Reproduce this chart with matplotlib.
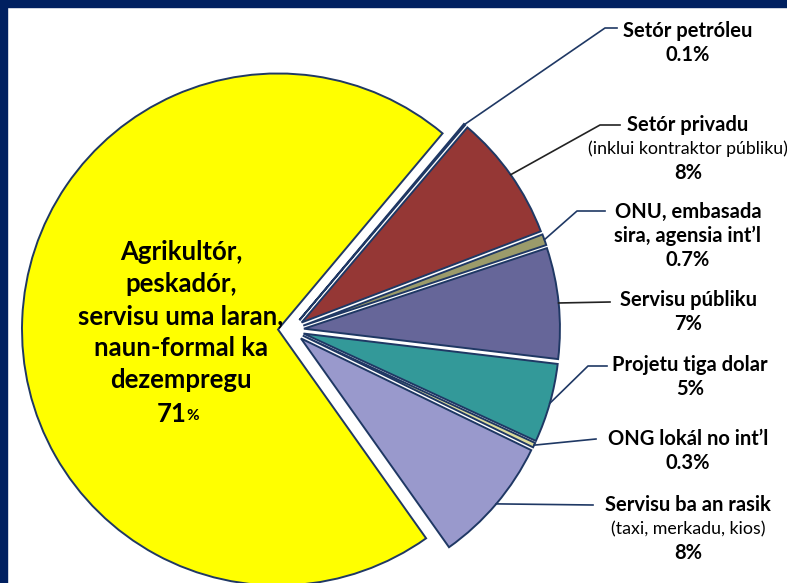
import math
import matplotlib.pyplot as plt
from matplotlib.patches import Rectangle

W, H = 787, 583
plt.rcParams['font.family'] = ['Lato', 'DejaVu Sans']

# sectors clockwise from the top of the small fan, the big yellow one last
sectors = ["Setór petróleu", "Setór privadu", "ONU, embasada\nsira, agensia int’l",
           "Servisu públiku", "Projetu tiga dolar", "ONG lokál no int’l",
           "Servisu ba an rasik",
           "Agrikultór,\npeskadór,\nservisu uma laran,\nnaun-formal ka\ndezempregu"]
shares = [0.1, 8, 0.7, 7, 5, 0.3, 8, 71]
notes = ["", "(inklui kontraktor públiku)", "", "", "", "", "(taxi, merkadu, kios)", ""]
colors = ['#4F6FA0', '#953735', '#9B9B6B', '#666699', '#339999', '#DCDC9C', '#9999CC', '#FFFF00']

# label layout (image pixels, y from top)
label_pos = [(688, 31), (688, 125), (688, 212), (688, 300), (690, 365), (688, 439), (688, 505)]
elbows = [(605, 28), (600, 125), (577, 211), None, (588, 366), None, None]
ends = [(617, 28), (620, 125), (605, 211), (610, 302), (607, 366), (596, 439), (593, 505)]
leader_colors = ['#1F3864', '#222222', '#1F3864', '#222222', '#1F3864', '#1F3864', '#1F3864']

fig = plt.figure(figsize=(W / 100, H / 100), dpi=100)
ax = fig.add_axes([0, 0, 1, 1])

wedges, _ = ax.pie(shares, colors=colors, startangle=50, counterclock=False,
                   center=(291, H - 330), radius=256, explode=[13] * len(shares),
                   wedgeprops=dict(edgecolor='#1F3864', linewidth=1.4), frame=True)
ax.set_xlim(0, W)
ax.set_ylim(0, H)
ax.axis('off')

# leader lines + labels
for i in range(7):
    w = wedges[i]
    tm = math.radians((w.theta1 + w.theta2) / 2)
    sx = w.center[0] + w.r * math.cos(tm)
    sy = w.center[1] + w.r * math.sin(tm)
    xs, ys = [sx], [sy]
    if elbows[i]:
        xs.append(elbows[i][0]); ys.append(H - elbows[i][1])
    xs.append(ends[i][0]); ys.append(H - ends[i][1])
    ax.plot(xs, ys, color=leader_colors[i], lw=1.2)

    lx, ly = label_pos[i]
    lines = [(t, 'bold', 14.5) for t in sectors[i].split('\n')]
    if notes[i]:
        lines.append((notes[i], 'normal', 12.8))
    lines.append((f"{shares[i]:g}%", 'bold', 14.5))
    for k, (t, wt, fs) in enumerate(lines):
        ax.text(lx, H - (ly + 24 * k), t, ha='center', va='center',
                fontsize=fs, weight=wt, color='black')

# big slice label
ax.text(181, H - 316, sectors[7], ha='center', va='center', fontsize=18.5,
        weight='bold', linespacing=1.4)
ax.text(187, H - 414, f"{shares[7]:g}", ha='right', va='center', fontsize=18.5, weight='bold')
ax.text(186, H - 416, "%", ha='left', va='center', fontsize=11, weight='bold')

# dark frame on top and left
ax.add_patch(Rectangle((0, H - 7), W, 7, color='#002060', zorder=5, clip_on=False))
ax.add_patch(Rectangle((0, 0), 7, H, color='#002060', zorder=5, clip_on=False))

fig.savefig('out.png', dpi=100)
